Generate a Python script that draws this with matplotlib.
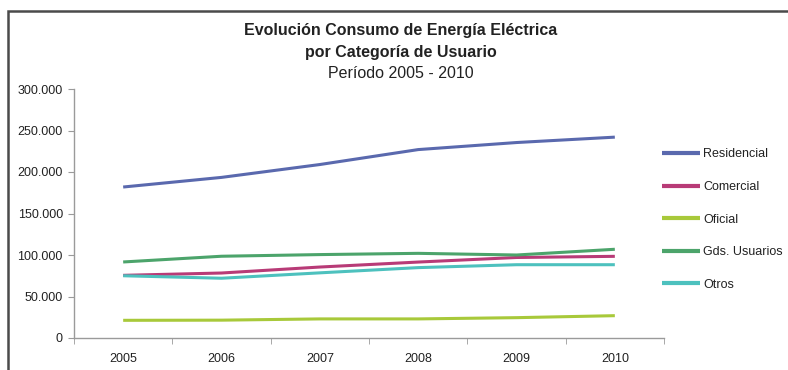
import matplotlib.pyplot as plt
import matplotlib.ticker as mticker
from matplotlib.patches import Rectangle

plt.rcParams['font.family'] = ['Liberation Sans', 'DejaVu Sans']

years = ['2005', '2006', '2007', '2008', '2009', '2010']
residencial = [181900, 193500, 209000, 227000, 235500, 242000]
comercial = [75500, 78300, 85500, 91500, 97000, 98400]
oficial = [21300, 21500, 23000, 23000, 24500, 26900]
gds_usuarios = [91600, 98500, 100500, 102000, 100000, 106900]
otros = [75000, 72000, 78500, 84800, 88300, 88300]

series = [
    ('Residencial', residencial, '#5A69AE'),
    ('Comercial', comercial, '#B83B77'),
    ('Oficial', oficial, '#A8C93A'),
    ('Gds. Usuarios', gds_usuarios, '#4CA46B'),
    ('Otros', otros, '#4DC1BE'),
]

fig = plt.figure(figsize=(7.88, 3.70), dpi=100)
ax = fig.add_axes([74 / 788, 1 - 338 / 370, 590 / 788, 249 / 370])

x = range(len(years))
for name, vals, col in series:
    ax.plot(x, vals, color=col, lw=2.2, label=name, solid_capstyle='butt')

ax.set_xlim(-0.5, len(years) - 0.5)
ax.set_ylim(0, 300000)
ax.set_yticks(range(0, 300001, 50000))
ax.yaxis.set_major_formatter(mticker.FuncFormatter(lambda v, p: f'{int(v):,}'.replace(',', '.')))
ax.set_xticks(list(x))
ax.set_xticklabels(years)
ax.set_xticks([i - 0.5 for i in range(len(years) + 1)], minor=True)

for s in ['top', 'right']:
    ax.spines[s].set_visible(False)
for s in ['left', 'bottom']:
    ax.spines[s].set_color('#9a9a9a')
    ax.spines[s].set_linewidth(1.0)

ax.tick_params(axis='y', length=4, color='#9a9a9a', labelsize=9, pad=4, labelcolor='#222222')
ax.tick_params(axis='x', which='major', length=0, labelsize=9, pad=11, labelcolor='#222222')
ax.tick_params(axis='x', which='minor', length=4, color='#9a9a9a')

fig.text(401 / 788, 1 - 30 / 370, 'Evolución Consumo de Energía Eléctrica', ha='center', va='center',
         fontsize=11.5, fontweight='bold', color='#222222')
fig.text(401 / 788, 1 - 52 / 370, 'por Categoría de Usuario', ha='center', va='center',
         fontsize=11.5, fontweight='bold', color='#222222')
fig.text(401 / 788, 1 - 74 / 370, 'Período 2005 - 2010', ha='center', va='center',
         fontsize=11.5, color='#222222')

leg = fig.legend(loc='upper left', bbox_to_anchor=(656 / 788, 1 - 142 / 370), frameon=False,
                 fontsize=9, handlelength=3.0, handletextpad=0.25, labelspacing=1.65, borderpad=0)
for t in leg.get_texts():
    t.set_color('#222222')
for h in leg.get_lines():
    h.set_linewidth(3)

# outer chart border (cropped on right and bottom)
fig.add_artist(Rectangle((8 / 788, -0.2), 1.2, 1.2 - 11 / 370, transform=fig.transFigure,
                         fill=False, edgecolor='#4a4a4a', lw=1.8))

fig.savefig('out.png', dpi=100)
